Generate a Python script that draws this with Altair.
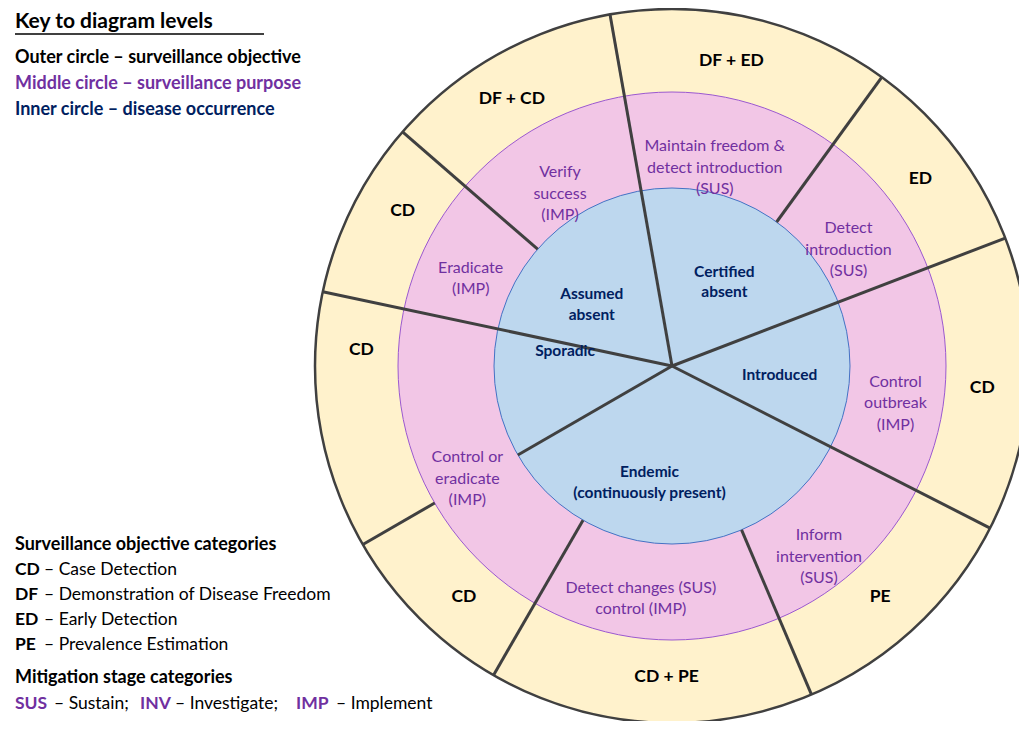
import math
import altair as alt
import pandas as pd

# ring contents (angle in degrees clockwise from top)
outer_labels = ["DF + ED", "ED", "CD", "PE", "CD + PE", "CD", "CD", "CD", "DF + CD"]
outer_angles = [11, 53, 94, 138, 181, 222, 273, 300, 329]
middle_labels = [
    "Maintain freedom &\ndetect introduction\n(SUS)",
    "Detect\nintroduction\n(SUS)",
    "Control\noutbreak\n(IMP)",
    "Inform\nintervention\n(SUS)",
    "Detect changes (SUS)\ncontrol (IMP)",
    "Control or\neradicate\n(IMP)",
    "Eradicate\n(IMP)",
    "Verify\nsuccess\n(IMP)",
]
middle_angles = [11, 52, 94, 139, 188, 246, 296, 330]
inner_labels = ["Certified\nabsent", "Introduced", "Endemic\n(continuously present)", "Sporadic", "Assumed\nabsent"]
inner_angles = [29, 95, 192, 278, 312]

# dividers: angle, start ring, end ring (0 centre, 1 inner edge, 2 middle edge, 3 outer edge)
div_angles = [350, 36, 69, 117, 157, 210, 240, 240, 282, 311]
div_from = [0, 1, 0, 0, 1, 1, 0, 2, 0, 1]
div_to = [3, 3, 3, 3, 3, 3, 1, 3, 3, 3]

CX, CY = 664, 358
RADII = [0, 178, 274, 357]
NAVY, PURPLE, LINE = "#002060", "#7030A0", "#404040"
FONT = "Lato"


def polar(df, a, r):
    rad = df[a] * math.pi / 180
    return CX + df[r] * rad.map(math.sin), CY - df[r] * rad.map(math.cos)


def disc(radius, fill, stroke, sw):
    return alt.Chart(pd.DataFrame({"r": [radius]})).mark_arc(
        theta=0, theta2=2 * math.pi, radius=radius, fill=fill, stroke=stroke, strokeWidth=sw
    ).encode(x=alt.value(CX), y=alt.value(CY))


discs = [
    disc(RADII[3], "#FFF2CC", LINE, 2.5),
    disc(RADII[2], "#F2C6E6", "#9B59D0", 1),
    disc(RADII[1], "#BDD7EE", "#4472C4", 1),
]

div = pd.DataFrame({"a": div_angles})
div["r0"] = [RADII[i] for i in div_from]
div["r1"] = [RADII[i] for i in div_to]
div["x0"], div["y0"] = polar(div, "a", "r0")
div["x1"], div["y1"] = polar(div, "a", "r1")
dividers = alt.Chart(div).mark_rule(color=LINE, strokeWidth=3).encode(
    x=alt.X("x0:Q", scale=None), y=alt.Y("y0:Q", scale=None),
    x2="x1:Q", y2="y1:Q",
)


def ring_text(labels, angles, radius, size, color, weight):
    df = pd.DataFrame({"t": labels, "a": angles})
    df["r"] = radius
    df["x"], df["y"] = polar(df, "a", "r")
    return alt.Chart(df).mark_text(
        font=FONT, fontSize=size, color=color, fontWeight=weight,
        lineBreak="\n", baseline="middle", align="center", lineHeight=size * 1.35,
    ).encode(x=alt.X("x:Q", scale=None), y=alt.Y("y:Q", scale=None), text="t:N")


outer_t = ring_text(outer_labels, outer_angles, 311, 17.5, "black", "bold")
middle_t = ring_text(middle_labels, middle_angles, 224, 16, PURPLE, "normal")
inner_t = ring_text(inner_labels, inner_angles, 108, 15.5, NAVY, "bold")


def note(t, x, y, size=17.5, color="black", bold=False):
    return alt.Chart(pd.DataFrame({"t": [t]})).mark_text(
        font=FONT, fontSize=size, color=color, fontWeight="bold" if bold else "normal",
        align="left", baseline="middle",
    ).encode(x=alt.value(x - 8), y=alt.value(y - 8), text="t:N")


notes = [
    note("Key to diagram levels", 15, 22, 21, bold=True),
    note("Outer circle – surveillance objective", 15, 58, 18, bold=True),
    note("Middle circle – surveillance purpose", 15, 84, 18, PURPLE, True),
    note("Inner circle – disease occurrence", 15, 110, 18, NAVY, True),
    note("Surveillance objective categories", 15, 545, 18, bold=True),
    note("Mitigation stage categories", 15, 678, 18, bold=True),
]
for i, (code, desc) in enumerate([("CD", "– Case Detection"), ("DF", "– Demonstration of Disease Freedom"),
                                   ("ED", "– Early Detection"), ("PE", "– Prevalence Estimation")]):
    notes.append(note(code, 15, 570 + 25 * i, bold=True))
    notes.append(note(desc, 44, 570 + 25 * i))
for t, x, c, b in [("SUS", 15, PURPLE, True), ("– Sustain;", 54, "black", False),
                   ("INV", 140, PURPLE, True), ("– Investigate;", 175, "black", False),
                   ("IMP", 296, PURPLE, True), ("– Implement", 336, "black", False)]:
    notes.append(note(t, x, 704, color=c, bold=b))

underline = alt.Chart(pd.DataFrame({"a": [0]})).mark_rule(color="black", strokeWidth=1.5).encode(
    x=alt.value(7), x2=alt.value(256), y=alt.value(26)
)

chart = alt.layer(*discs, dividers, outer_t, middle_t, inner_t, underline, *notes).properties(
    width=1011, height=713, autosize=alt.AutoSizeParams(type="none"), padding=0
).configure_view(stroke=None)

chart.save("out.html", embed_options={"renderer": "svg", "actions": False})
